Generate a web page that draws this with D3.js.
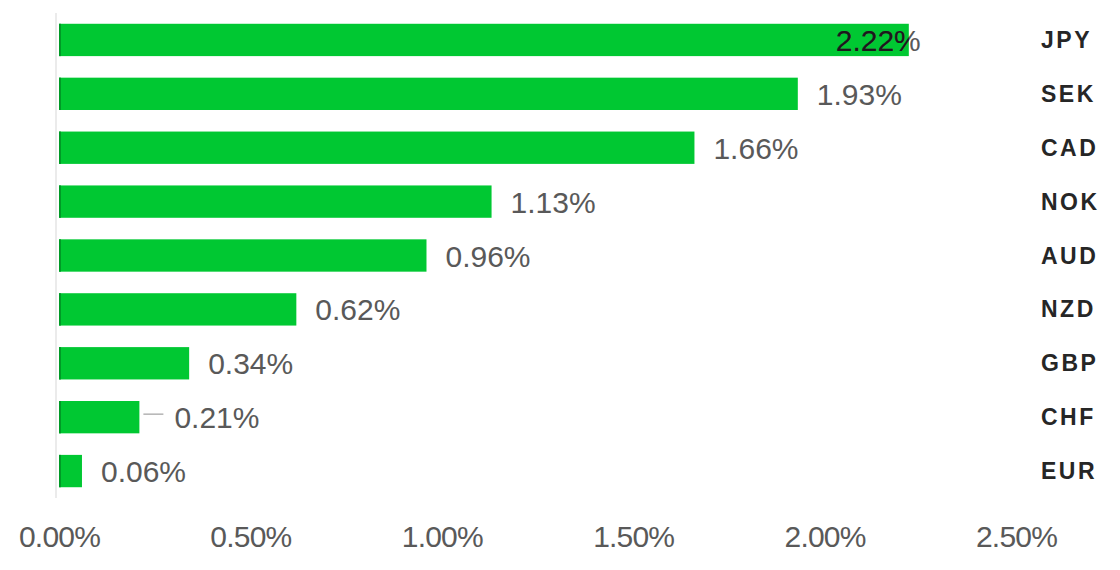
<!DOCTYPE html>
<html>
<head>
<meta charset="utf-8">
<script src="https://cdn.jsdelivr.net/npm/d3@7"></script>
<style>
  html, body { margin: 0; padding: 0; background: #ffffff; }
  svg { display: block; }
</style>
</head>
<body>
<svg id="chart" width="1120" height="570"></svg>
<script>
// Currency performance, sorted from strongest to weakest
const currencies = ["JPY", "SEK", "CAD", "NOK", "AUD", "NZD", "GBP", "CHF", "EUR"];
const changes = [2.22, 1.93, 1.66, 1.13, 0.96, 0.62, 0.34, 0.21, 0.06];
const tickValues = [0, 0.5, 1.0, 1.5, 2.0, 2.5];
const tickLabels = ["0.00%", "0.50%", "1.00%", "1.50%", "2.00%", "2.50%"];

const rows = currencies.map((c, i) => ({ name: c, value: changes[i] }));

const svg = d3.select("#chart");
const BAR = "#00c832";
const BAR_EDGE = "#009a26";
const FONT = "'Liberation Sans', Arial, sans-serif";

const x = d3.scaleLinear().domain([0, 2.5]).range([59, 1016]);
const y = d3.scaleBand()
  .domain(currencies)
  .range([13, 498])
  .paddingInner(0.4)
  .paddingOuter(0.2);

const fmt = v => v.toFixed(2) + "%";

// category axis line
svg.append("line")
  .attr("x1", 56).attr("x2", 56)
  .attr("y1", 13).attr("y2", 498)
  .attr("stroke", "#ebebeb")
  .attr("stroke-width", 2);

// bars
const defs = svg.append("defs");
const bars = svg.append("g");
rows.forEach((d, i) => {
  bars.append("rect")
    .attr("x", x(0))
    .attr("y", y(d.name))
    .attr("width", x(d.value) - x(0))
    .attr("height", y.bandwidth())
    .attr("fill", BAR);
  bars.append("rect")
    .attr("x", x(0))
    .attr("y", y(d.name))
    .attr("width", 2)
    .attr("height", y.bandwidth())
    .attr("fill", BAR_EDGE);
  defs.append("clipPath").attr("id", "barclip" + i)
    .append("rect")
    .attr("x", x(0))
    .attr("y", y(d.name))
    .attr("width", x(d.value) - x(0))
    .attr("height", y.bandwidth());
});

// value labels
const maxVal = d3.max(changes);
const leadered = new Set(["CHF"]);
const labels = svg.append("g")
  .attr("font-family", FONT)
  .attr("font-size", 30);

rows.forEach((d, i) => {
  const cy = y(d.name) + y.bandwidth() / 2;
  let lx = x(d.value) + 19;
  let anchor = "start";
  if (d.value === maxVal) { lx = x(d.value) + 12; anchor = "end"; }
  if (leadered.has(d.name)) {
    lx = x(d.value) + 35;
    svg.append("line")
      .attr("x1", x(d.value) + 4).attr("x2", x(d.value) + 24)
      .attr("y1", cy - 3).attr("y2", cy - 3)
      .attr("stroke", "#b3b3b3").attr("stroke-width", 1.5);
  }
  labels.append("text")
    .attr("x", lx).attr("y", cy + 11)
    .attr("text-anchor", anchor)
    .attr("fill", "#595959")
    .text(fmt(d.value));
  // darker copy of the label where it sits on top of its bar
  labels.append("text")
    .attr("x", lx).attr("y", cy + 11)
    .attr("text-anchor", anchor)
    .attr("fill", "#1a1a1a")
    .attr("clip-path", "url(#barclip" + i + ")")
    .text(fmt(d.value));
});

// category names on the right
svg.append("g")
  .attr("font-family", FONT)
  .attr("font-size", 23)
  .attr("font-weight", "bold")
  .attr("letter-spacing", 2.5)
  .attr("fill", "#262626")
  .selectAll("text")
  .data(rows)
  .join("text")
  .attr("x", 1041)
  .attr("y", d => y(d.name) + y.bandwidth() / 2 + 8)
  .text(d => d.name);

// value axis
const xAxis = d3.axisBottom(x)
  .tickValues(tickValues)
  .tickFormat((v, i) => tickLabels[i])
  .tickSize(0)
  .tickPadding(0);

const gx = svg.append("g")
  .attr("transform", "translate(0,526)")
  .call(xAxis);
gx.select(".domain").remove();
gx.selectAll("text")
  .attr("font-family", FONT)
  .attr("font-size", 30)
  .attr("letter-spacing", -0.8)
  .attr("fill", "#595959")
  .attr("dy", "0.71em");
</script>
</body>
</html>
